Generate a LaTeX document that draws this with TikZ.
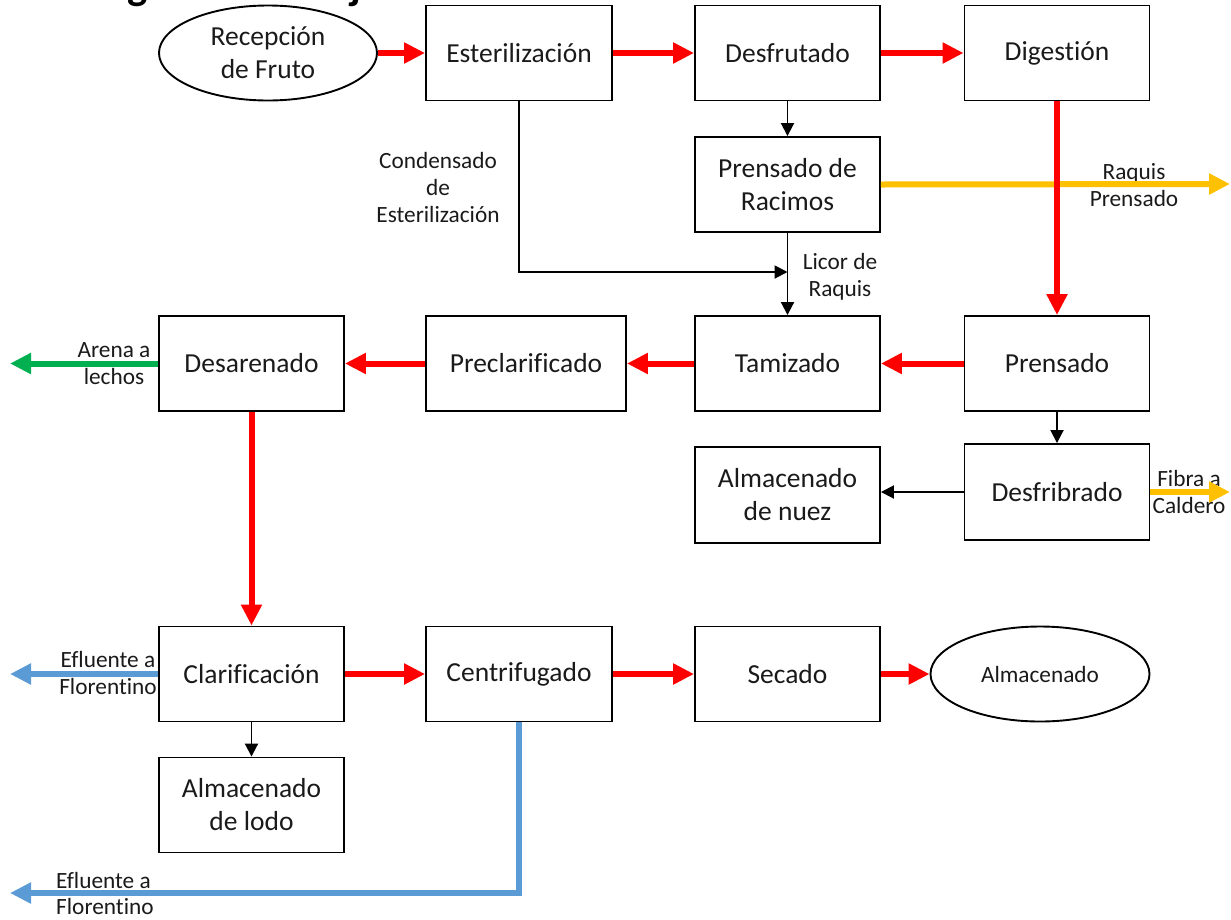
\documentclass[tikz,border=0pt]{standalone}
\usepackage{fontspec}
\setmainfont{Carlito}[Ligatures={NoCommon,NoRare}]
\usetikzlibrary{arrows.meta,shapes.geometric}
\definecolor{cred}{HTML}{FF0000}
\definecolor{cyel}{HTML}{FFC000}
\definecolor{cgrn}{HTML}{00B050}
\definecolor{cblu}{HTML}{5B9BD5}
\definecolor{ctxt}{HTML}{1A1A1A}
\newcommand{\nolig}{\kern0pt }
\begin{document}
\begin{tikzpicture}[x=1pt,y=-1pt,
  box/.style={draw, line width=1.9pt, minimum width=185pt, minimum height=95pt, inner sep=0pt,
    align=center, text=ctxt, font=\fontsize{27.5}{33}\selectfont},
  oval/.style={box, ellipse},
  lbl/.style={align=center, inner sep=0pt, text=ctxt, font=\fontsize{23.3}{27}\selectfont},
  big/.style={line width=6pt, -{Triangle[length=21pt,width=20pt]}},
  redflow/.style={big, draw=cred},
  yelflow/.style={big, draw=cyel},
  grnflow/.style={big, draw=cgrn},
  bluflow/.style={big, draw=cblu},
  blk/.style={line width=1.9pt, -{Triangle[length=13pt,width=13pt]}}
]
\useasboundingbox (0,0) rectangle (1231,919);
\clip (0,0) rectangle (1231,919);

% title (cut off at top, as in the reference)
\node[anchor=base west, inner sep=0pt, font=\fontsize{42.8}{50}\bfseries\selectfont] (title) at (69,-0.5) {Diagrama de flujo};

% nodes
\node[oval, minimum width=218pt] (recep) at (268,53) {Recepción\\de Fruto};
\node[box, minimum width=186pt] (ester) at (519,53) {Esterilización};
\node[box] (desfr) at (787.5,53) {Desfrutado};
\node[box] (dige) at (1057,53) {Digest\nolig ión};
\node[box] (prac) at (787.5,184.5) {Prensado de\\Racimos};

\node[box] (desar) at (251.5,363.5) {Desarenado};
\node[box, minimum width=200pt] (precl) at (526,363.5) {Preclarif\nolig icado};
\node[box] (tamiz) at (787.5,363.5) {Tamizado};
\node[box] (prens) at (1057,363.5) {Prensado};

\node[box, minimum height=96pt] (desfib) at (1057,492) {Desfribrado};
\node[box, minimum height=96pt] (almnuez) at (787.5,495) {Almacenado\\de nuez};

\node[box] (clarif) at (251.5,674) {Clarif\nolig icación};
\node[box, minimum width=186pt] (centr) at (519,674) {Centrifugado};
\node[box] (secado) at (787.5,674) {Secado};
\node[oval, minimum width=219pt, font=\fontsize{23.3}{27}\selectfont] (almac) at (1040,674) {Almacenado};
\node[box] (almlodo) at (251.5,805) {Almacenado\\de lodo};

% free ends
\coordinate (jn) at (787.5,272);
\coordinate (raqend) at (1230,184);
\coordinate (fibend) at (1230,492);
\coordinate (arenend) at (10,363.5);
\coordinate (eflend) at (10,674);
\coordinate (efl2end) at (10,893);

% labels
\node[lbl] (lcond) at (438,187) {Condensado\\de\\Esterilización};
\node[lbl] (llicor) at (840,276.5) {Licor de\\Raquis};
\node[lbl] (lraq) at (1134,185) {Raquis\\Prensado};
\node[lbl] (laren) at (114,364) {Arena a\\lechos};
\node[lbl] (lfib) at (1189,491.5) {Fibra a\\Caldero};
\node[lbl] (lefl) at (108,672.5) {Efluente a\\Florentino};
\node[lbl, align=left, anchor=west, font=\fontsize{23.3}{26}\selectfont] (lefl2) at (56,893) {Efluente a\\Florentino};

% side flows
\draw[yelflow] (prac.east) -- (raqend);
\draw[yelflow] (desfib.east) -- (fibend);
\draw[grnflow] (desar.west) -- (arenend);
\draw[bluflow] (clarif.west) -- (eflend);
\draw[bluflow] (centr.south) |- (efl2end);

% main red flow
\draw[redflow] (recep) -- (ester);
\draw[redflow] (ester) -- (desfr);
\draw[redflow] (desfr) -- (dige);
\draw[redflow] (dige) -- (prens);
\draw[redflow] (prens) -- (tamiz);
\draw[redflow] (tamiz) -- (precl);
\draw[redflow] (precl) -- (desar);
\draw[redflow] (desar) -- (clarif);
\draw[redflow] (clarif) -- (centr);
\draw[redflow] (centr) -- (secado);
\draw[redflow] (secado) -- (almac);

% black connectors
\draw[blk] (desfr) -- (prac);
\draw[blk] (prac) -- (tamiz);
\draw[blk] (ester.south) |- (jn);
\draw[blk] (prens) -- (desfib);
\draw[blk] (desfib.west) -- (desfib.west -| almnuez.east);
\draw[blk] (clarif) -- (almlodo);
\end{tikzpicture}
\end{document}
